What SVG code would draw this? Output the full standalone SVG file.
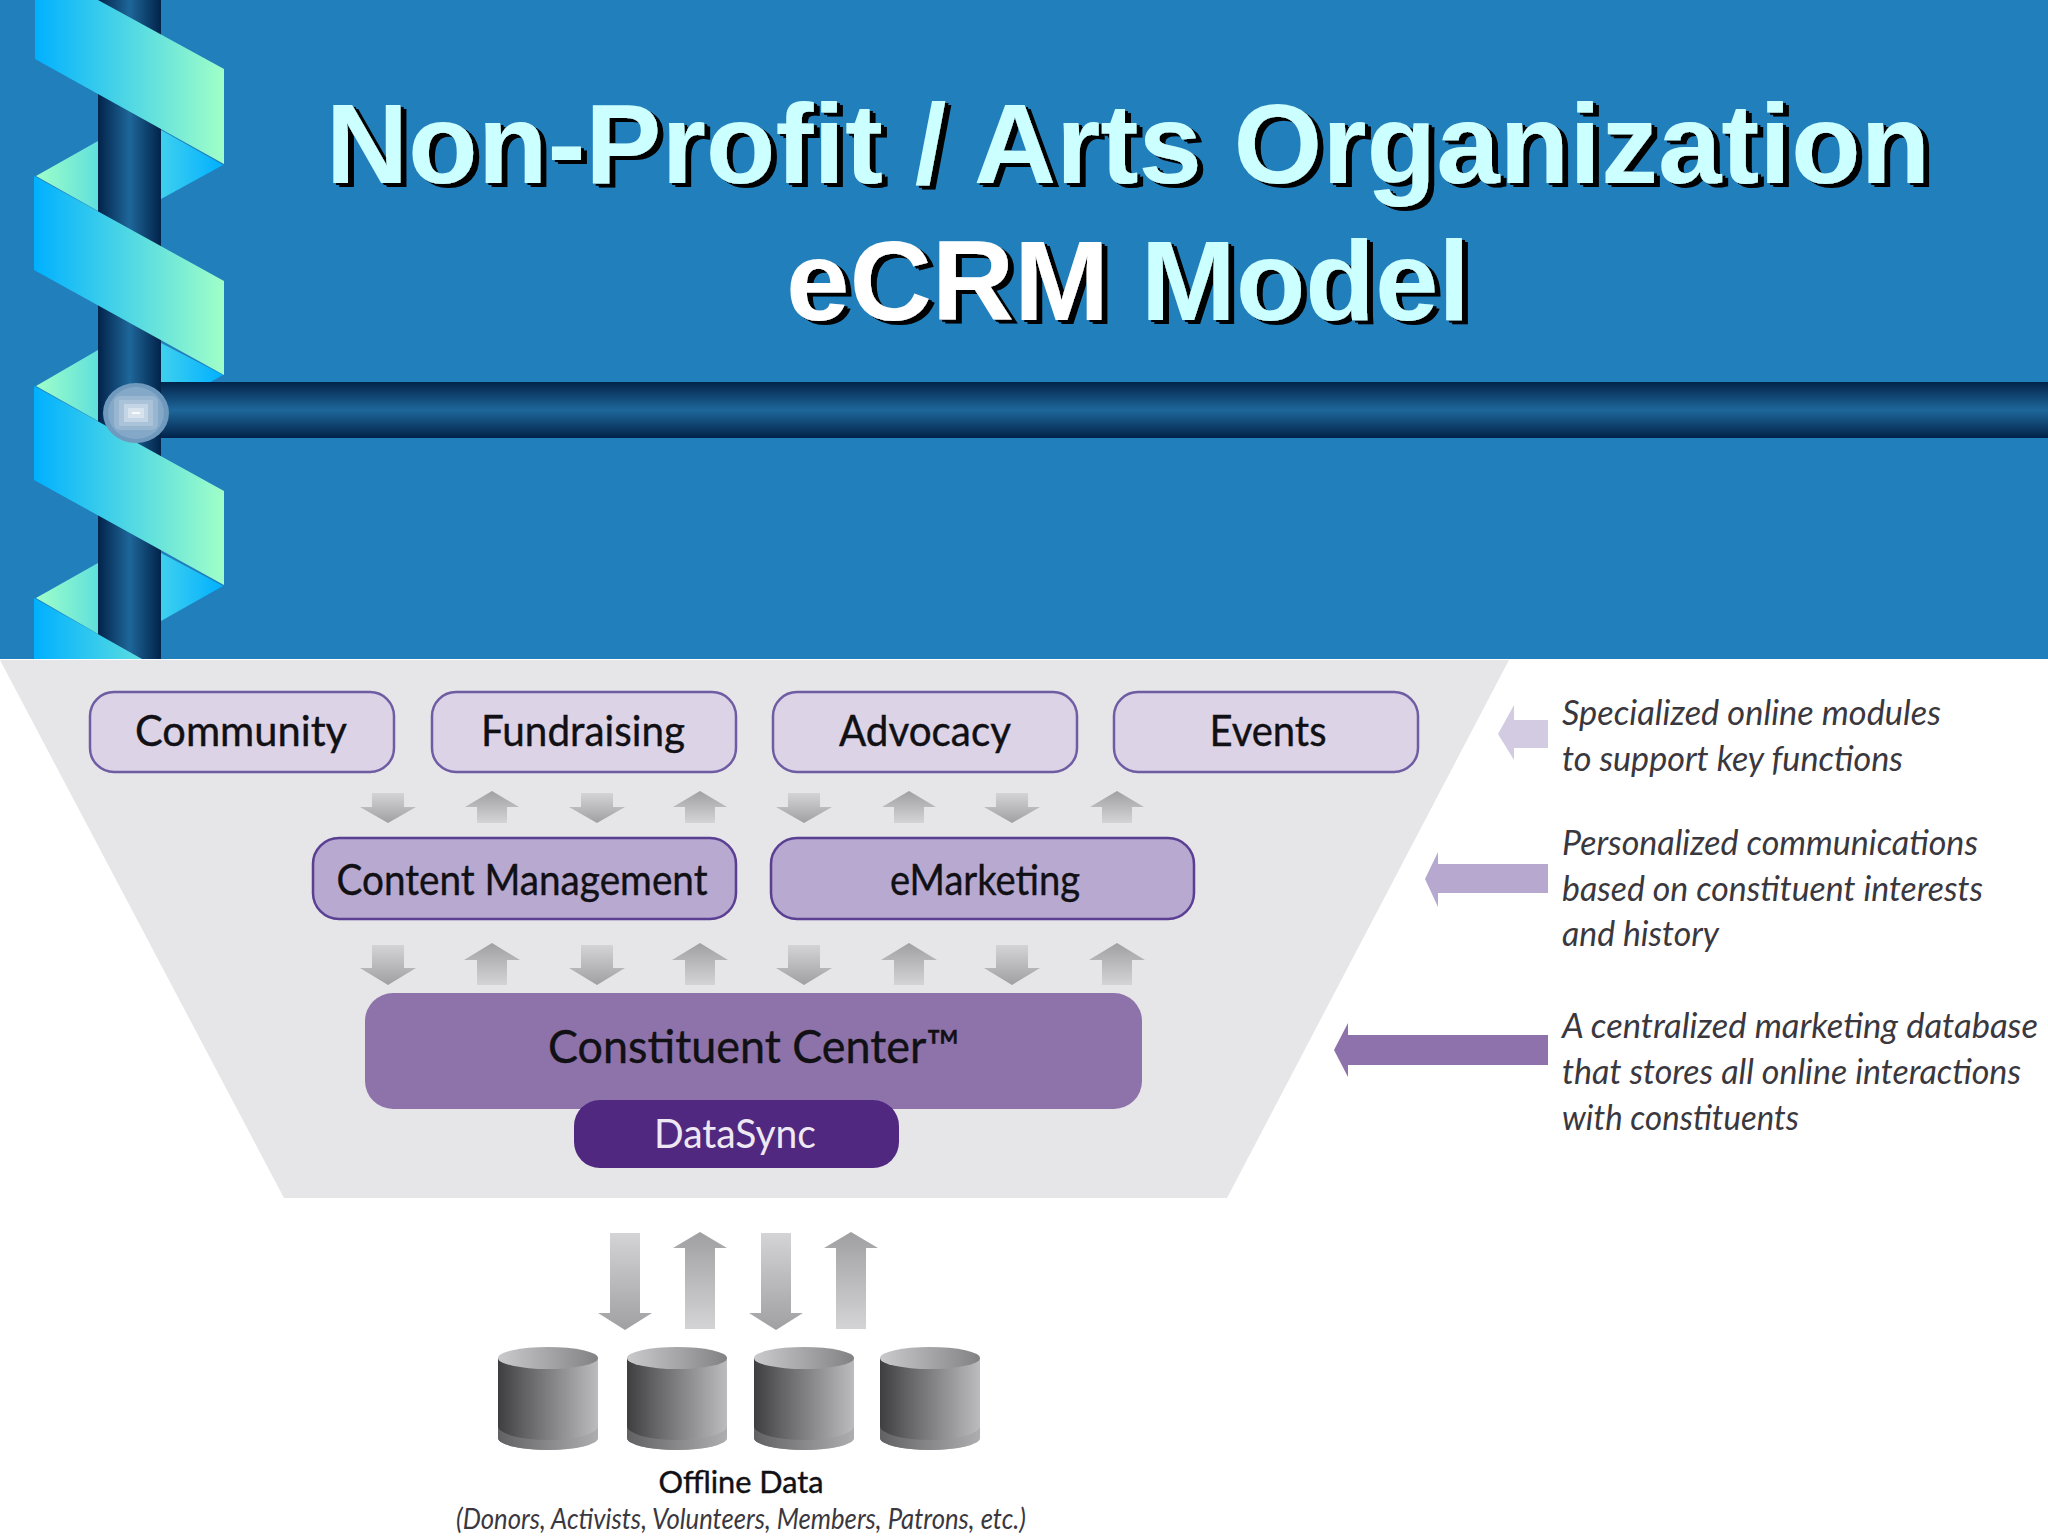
<svg xmlns="http://www.w3.org/2000/svg" width="2048" height="1536" viewBox="0 0 2048 1536">
<style>
.title{font:bold 114px "Liberation Sans",Arial,sans-serif;text-anchor:middle;fill:#ccffff;filter:url(#extrude)}
.lbl{font-family:Lato,"Noto Sans",sans-serif;font-size:42px;fill:#111014;stroke:#111014;stroke-width:.4;text-anchor:middle}
.note{font-family:Lato,"Noto Sans",sans-serif;font-style:italic;font-size:34px;fill:#3a383e}
.box1{fill:#dcd3e6;stroke:#6f5da3;stroke-width:2.5}
.box2{fill:#b7a9cf;stroke:#5a3f92;stroke-width:2.5}
</style>
<defs>
<filter id="extrude" x="-5%" y="-5%" width="110%" height="115%"><feDropShadow dx="3" dy="2" stdDeviation="0" flood-color="#000"/><feDropShadow dx="3" dy="2" stdDeviation="0" flood-color="#000"/></filter>
<linearGradient id="rib" gradientUnits="userSpaceOnUse" x1="34" y1="0" x2="224" y2="0"><stop offset="0" stop-color="#00b0ff"/><stop offset="1" stop-color="#a0ffc8"/></linearGradient>
<linearGradient id="backL" gradientUnits="userSpaceOnUse" x1="36" y1="0" x2="98" y2="0"><stop offset="0" stop-color="#a0ffc8"/><stop offset="1" stop-color="#5fe0dc"/></linearGradient>
<linearGradient id="backR" gradientUnits="userSpaceOnUse" x1="161" y1="0" x2="223" y2="0"><stop offset="0" stop-color="#3fd0ee"/><stop offset="1" stop-color="#00b0ff"/></linearGradient>
<linearGradient id="col" x1="0" y1="0" x2="1" y2="0"><stop offset="0" stop-color="#02234a"/><stop offset=".5" stop-color="#1e679a"/><stop offset="1" stop-color="#02234a"/></linearGradient>
<linearGradient id="bar" x1="0" y1="0" x2="0" y2="1"><stop offset="0" stop-color="#02234a"/><stop offset=".5" stop-color="#1e679a"/><stop offset="1" stop-color="#02234a"/></linearGradient>
<linearGradient id="gd" x1="0" y1="0" x2="0" y2="1"><stop offset="0" stop-color="#d4d4d6"/><stop offset="1" stop-color="#a0a0a2"/></linearGradient>
<linearGradient id="gu" x1="0" y1="0" x2="0" y2="1"><stop offset="0" stop-color="#a0a0a2"/><stop offset="1" stop-color="#d4d4d6"/></linearGradient>
<linearGradient id="cyl" x1="0" y1="0" x2="1" y2="0"><stop offset="0" stop-color="#3e3e40"/><stop offset=".25" stop-color="#606062"/><stop offset="1" stop-color="#bcbcbe"/></linearGradient>
<linearGradient id="cylTop" x1="0" y1="0" x2="1" y2="0"><stop offset="0" stop-color="#cacacc"/><stop offset="1" stop-color="#828284"/></linearGradient>
<linearGradient id="cylBot" x1="0" y1="0" x2="1" y2="0"><stop offset="0" stop-color="#707072"/><stop offset="1" stop-color="#a8a8aa"/></linearGradient>
<path id="d1" fill="url(#gd)" d="M-16 793H16V807H28L0 823L-28 807H-16Z"/>
<path id="u1" fill="url(#gu)" d="M-15 823H15V807H27L0 791L-27 807H-15Z"/>
<path id="d2" fill="url(#gd)" d="M-16 945H16V968H28L0 985L-28 968H-16Z"/>
<path id="u2" fill="url(#gu)" d="M-15 985H15V960H28L0 943L-28 960H-15Z"/>
<path id="d3" fill="url(#gd)" d="M-15 1233H15V1313H27L0 1330L-27 1313H-15Z"/>
<path id="u3" fill="url(#gu)" d="M-15 1329H15V1248H27L0 1232L-27 1248H-15Z"/>
<g id="cy">
<path fill="url(#cyl)" d="M0 1358V1438A50 12 0 0 0 100 1438V1358Z"/>
<path fill="url(#cylBot)" d="M0 1426V1438A50 12 0 0 0 100 1438V1426A50 14 0 0 1 0 1426Z" opacity=".7"/>
<ellipse fill="url(#cylTop)" cx="50" cy="1358" rx="50" ry="11"/>
</g>
</defs>

<rect id="background" width="2048" height="1536" fill="#fff"/>
<rect id="banner" width="2048" height="659" fill="#217fbb"/>

<g id="ribbon-decoration">
<g fill="url(#backL)"><path d="M36 176L98 141V211Z"/><path d="M36 386L98 350V421Z"/><path d="M36 598L98 563V634Z"/></g>
<g fill="url(#backR)"><path d="M161 130L223 165L161 199Z"/><path d="M161 343L223 375L161 410Z"/><path d="M161 553L223 586L161 621Z"/></g>
<rect x="98" y="0" width="63" height="659" fill="url(#col)"/>
<rect x="161" y="382" width="1887" height="56" fill="url(#bar)"/>
<g fill="url(#rib)">
<path d="M35 0H98L224 69V164L35 59Z"/>
<path d="M34 176L224 281V375L34 270Z"/>
<path d="M34 386L224 491V585L34 480Z"/>
<path d="M34 598L142 659H34Z"/>
</g>
<ellipse cx="136" cy="413" rx="33" ry="30" fill="#6f99bd"/>
<ellipse cx="136" cy="413" rx="28" ry="26" fill="#84a8c8"/>
<rect x="114" y="396" width="44" height="34" rx="6" fill="#98b6d0"/>
<rect x="119" y="400" width="34" height="26" fill="#abc3d9"/>
<rect x="124" y="404" width="24" height="18" fill="#c4d5e5"/>
<rect x="128" y="408" width="16" height="10" fill="#d8e3ee"/>
<rect x="132" y="412" width="8" height="2" fill="#f8fafc"/>
</g>

<g id="title">
<text class="title" x="1128" y="183"><tspan>Non-Profit / Arts Organization</tspan></text>
<text class="title" x="1128" y="320"><tspan fill="#fff">eCRM</tspan> Model</text>
</g>

<path id="funnel" fill="#e6e5e8" d="M0 660H1509L1227 1198H284Z"/>

<g id="connectors">
<use href="#d1" x="388"/><use href="#u1" x="492"/><use href="#d1" x="597"/><use href="#u1" x="700"/><use href="#d1" x="804"/><use href="#u1" x="909"/><use href="#d1" x="1012"/><use href="#u1" x="1117"/>
<use href="#d2" x="388"/><use href="#u2" x="492"/><use href="#d2" x="597"/><use href="#u2" x="700"/><use href="#d2" x="804"/><use href="#u2" x="909"/><use href="#d2" x="1012"/><use href="#u2" x="1117"/>
<use href="#d3" x="625"/><use href="#u3" x="700"/><use href="#d3" x="776"/><use href="#u3" x="851"/>
<path fill="#d3cbe2" d="M1548 720H1514V705L1498 734L1514 760V748H1548Z"/>
<path fill="#b7a8cf" d="M1548 864H1438V852L1425 879L1438 907V893H1548Z"/>
<path fill="#8e72ab" d="M1548 1035H1348V1023L1334 1050L1348 1077V1065H1548Z"/>
</g>

<g id="community"><rect class="box1" x="90" y="692" width="304" height="80" rx="24"/><text class="lbl" x="241" y="746" textLength="212" lengthAdjust="spacingAndGlyphs">Community</text></g>
<g id="fundraising"><rect class="box1" x="432" y="692" width="304" height="80" rx="24"/><text class="lbl" x="583" y="746" textLength="204" lengthAdjust="spacingAndGlyphs">Fundraising</text></g>
<g id="advocacy"><rect class="box1" x="773" y="692" width="304" height="80" rx="24"/><text class="lbl" x="925" y="746" textLength="172" lengthAdjust="spacingAndGlyphs">Advocacy</text></g>
<g id="events"><rect class="box1" x="1114" y="692" width="304" height="80" rx="24"/><text class="lbl" x="1268" y="746" textLength="117" lengthAdjust="spacingAndGlyphs">Events</text></g>
<g id="content-management"><rect class="box2" x="313" y="838" width="423" height="81" rx="26"/><text class="lbl" x="522" y="895" textLength="371" lengthAdjust="spacingAndGlyphs">Content Management</text></g>
<g id="emarketing"><rect class="box2" x="771" y="838" width="423" height="81" rx="26"/><text class="lbl" x="985" y="895" textLength="190" lengthAdjust="spacingAndGlyphs">eMarketing</text></g>
<g id="constituent-center"><rect x="365" y="993" width="777" height="116" rx="28" fill="#8e73ab"/><text class="lbl" x="754" y="1063" textLength="412" lengthAdjust="spacingAndGlyphs" style="font-size:46px">Constituent Center™</text></g>
<g id="datasync"><rect x="574" y="1100" width="325" height="68" rx="26" fill="#502880"/><text class="lbl" x="735" y="1148" textLength="162" lengthAdjust="spacingAndGlyphs" style="fill:#eee8f2;stroke:none;font-size:40px">DataSync</text></g>

<g id="offline-data">
<use href="#cy" x="498"/><use href="#cy" x="627"/><use href="#cy" x="754"/><use href="#cy" x="880"/>
<text class="lbl" x="741" y="1493" textLength="165" lengthAdjust="spacingAndGlyphs" style="font-size:30px">Offline Data</text>
<text class="note" x="741" y="1529" text-anchor="middle" textLength="570" lengthAdjust="spacingAndGlyphs" style="font-size:28px">(Donors, Activists, Volunteers, Members, Patrons, etc.)</text>
</g>

<g id="notes">
<text class="note" x="1562" y="725" textLength="379" lengthAdjust="spacingAndGlyphs">Specialized online modules</text>
<text class="note" x="1562" y="771" textLength="341" lengthAdjust="spacingAndGlyphs">to support key functions</text>
<text class="note" x="1562" y="855" textLength="416" lengthAdjust="spacingAndGlyphs">Personalized communications</text>
<text class="note" x="1562" y="901" textLength="421" lengthAdjust="spacingAndGlyphs">based on constituent interests</text>
<text class="note" x="1562" y="946" textLength="157" lengthAdjust="spacingAndGlyphs">and history</text>
<text class="note" x="1562" y="1038" textLength="476" lengthAdjust="spacingAndGlyphs">A centralized marketing database</text>
<text class="note" x="1562" y="1084" textLength="459" lengthAdjust="spacingAndGlyphs">that stores all online interactions</text>
<text class="note" x="1562" y="1130" textLength="237" lengthAdjust="spacingAndGlyphs">with constituents</text>
</g>
</svg>
